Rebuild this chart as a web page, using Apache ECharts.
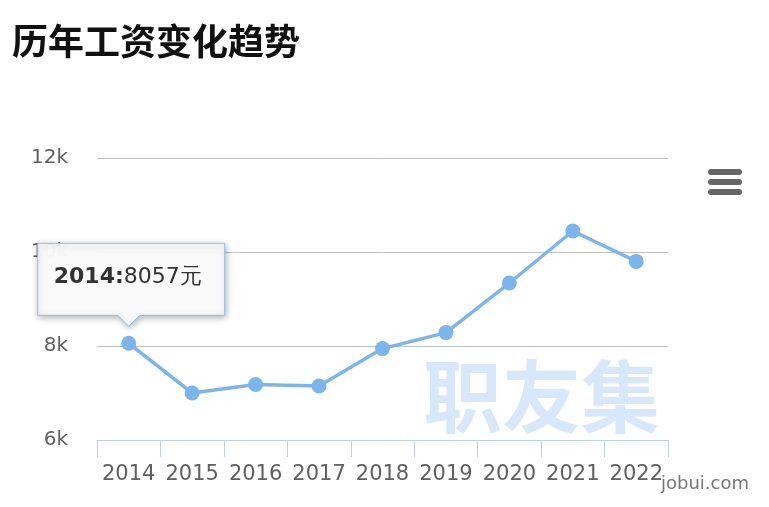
<!DOCTYPE html>
<html>
<head>
<meta charset="utf-8">
<script src="https://cdn.jsdelivr.net/npm/echarts@6/dist/echarts.min.js"></script>
<style>
html,body{margin:0;padding:0;background:#fff;}
#main{width:769px;height:507px;}
</style>
</head>
<body>
<div id="main"></div>
<script>
var titleText = '历年工资变化趋势';
var categories = ['2014','2015','2016','2017','2018','2019','2020','2021','2022'];
var salaries = [8057, 7000, 7180, 7150, 7945, 8285, 9340, 10447, 9800];
var yTicks = [6000, 8000, 10000, 12000];
var unit = '元';
var watermark = '职友集';
var site = 'jobui.com';
var highlightIndex = 0;

var chart = echarts.init(document.getElementById('main'), null, {renderer:'canvas'});
var font = 'DejaVu Sans';
var option = {
  animation: false,
  backgroundColor: '#fff',
  title: {
    text: titleText, left: 7, top: 18,
    textStyle: {fontSize: 36, fontWeight: 'bold', color: '#111', fontFamily: 'Noto Sans CJK SC'}
  },
  grid: {left: 97, right: 101, top: 158, bottom: 67},
  xAxis: {
    type: 'category', data: categories, boundaryGap: true,
    axisLine: {lineStyle: {color: '#C0D0E0', width: 1}},
    axisTick: {show: true, length: 17, lineStyle: {color: '#C0D0E0'}},
    axisLabel: {fontSize: 21, color: '#606060', fontFamily: font, margin: 24, interval: 0}
  },
  yAxis: {
    type: 'value', min: yTicks[0], max: yTicks[yTicks.length-1], interval: yTicks[1]-yTicks[0],
    axisLine: {show: false}, axisTick: {show: false},
    splitLine: {lineStyle: {color: '#C0C0C0', width: 1}},
    axisLabel: {fontSize: 20, color: '#606060', fontFamily: font, margin: 29, padding: [6, 0, 0, 0],
      formatter: function(v){ return (v/1000) + 'k'; }}
  },
  series: [{
    type: 'line', data: salaries,
    symbol: 'circle', symbolSize: 15,
    lineStyle: {color: '#7cb5ec', width: 3.5},
    itemStyle: {color: '#7cb5ec'},
    z: 5
  }]
};
chart.setOption(option);

var p = chart.convertToPixel({seriesIndex: 0}, [highlightIndex, salaries[highlightIndex]]);
var px = p[0], py = p[1];
var l = px - 91, r = px + 96, t = py - 100, b = py - 28, tip = py - 17, aw = 11;
var pts = [[l, t], [r, t], [r, b], [px + aw, b], [px, tip], [px - aw, b], [l, b]];

chart.setOption({
  graphic: [
    {type: 'text', z: 0, x: 423, y: 397, silent: true,
      style: {text: watermark, fontSize: 79, fontWeight: 'bold', fill: '#d8e8fb',
        fontFamily: 'Noto Sans CJK SC', verticalAlign: 'middle'}},
    {type: 'text', z: 1, x: 661, y: 484, silent: true,
      style: {text: site, fontSize: 18, fill: '#777', fontFamily: font, verticalAlign: 'middle'}},
    {type: 'rect', z: 10, shape: {x: 708, y: 169, width: 34, height: 6, r: 3}, style: {fill: '#666'}},
    {type: 'rect', z: 10, shape: {x: 708, y: 179, width: 34, height: 6, r: 3}, style: {fill: '#666'}},
    {type: 'rect', z: 10, shape: {x: 708, y: 189, width: 34, height: 6, r: 3}, style: {fill: '#666'}},
    {type: 'polygon', z: 100, shape: {points: pts},
      style: {fill: 'rgba(251,251,251,0.97)', stroke: '#8fc0ef', lineWidth: 1,
        shadowColor: 'rgba(0,0,0,0.3)', shadowBlur: 6, shadowOffsetX: 1, shadowOffsetY: 2}},
    {type: 'text', z: 101, x: l + 16, y: py - 66,
      style: {
        text: '{b|' + categories[highlightIndex] + ':}{v|' + salaries[highlightIndex] + unit + '}',
        verticalAlign: 'middle',
        rich: {
          b: {fontSize: 22, fontWeight: 'bold', fill: '#333', fontFamily: font},
          v: {fontSize: 22, fill: '#333', fontFamily: font}
        }
      }}
  ]
});
</script>
</body>
</html>
